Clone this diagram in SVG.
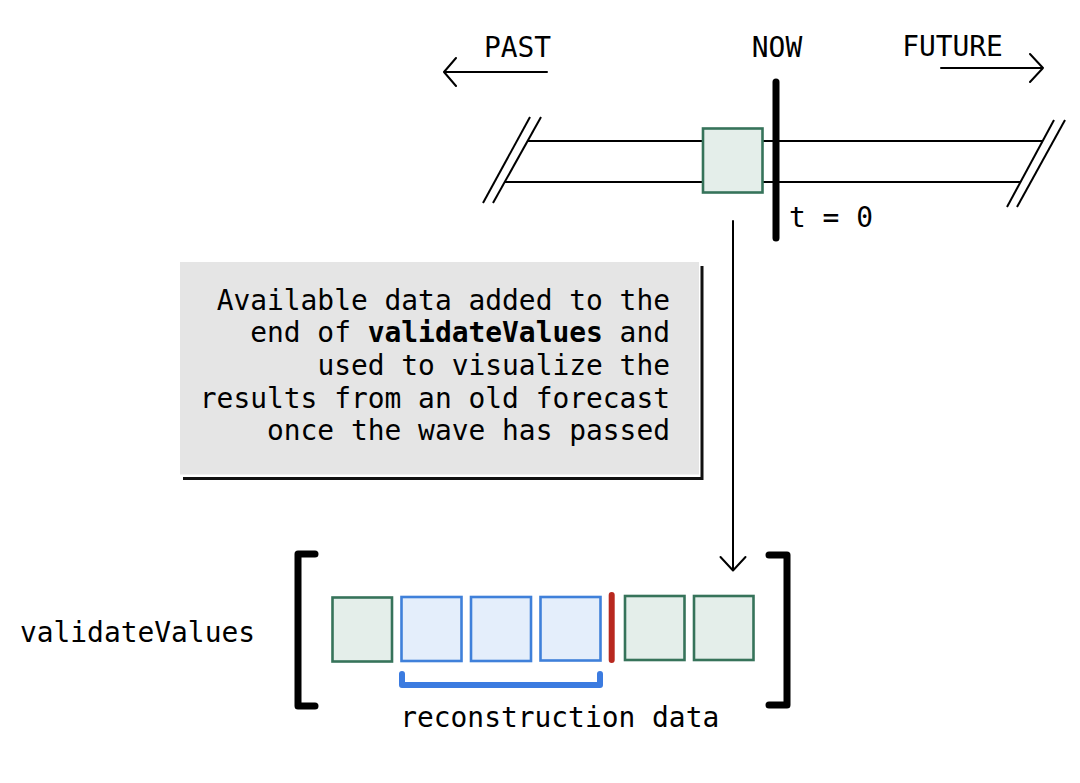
<svg xmlns="http://www.w3.org/2000/svg" width="1080" height="783" viewBox="0 0 1080 783">
<style>
  text { font-family: "DejaVu Sans Mono", "Liberation Mono", monospace; font-size: 27.9px; fill: #000; }
  .ln { stroke: #000; stroke-width: 2; fill: none; stroke-linecap: round; stroke-linejoin: round; }
  .thin { stroke: #000; stroke-width: 2; fill: none; }
  .heavy { stroke: #000; stroke-width: 7; fill: none; stroke-linecap: round; stroke-linejoin: round; }
  .green { fill: #e4eeea; stroke: #36735a; stroke-width: 2.6; }
  .blue { fill: #e4eefb; stroke: #3f80da; stroke-width: 2.6; }
</style>
<rect width="1080" height="783" fill="#ffffff"/>

<g id="timeline">
  <line class="thin" x1="527.6" y1="141" x2="1042.7" y2="141"/>
  <line class="thin" x1="504.7" y1="182" x2="1020.5" y2="182"/>
  <line class="thin" x1="483" y1="203" x2="530" y2="117"/>
  <line class="thin" x1="493" y1="203" x2="541" y2="117"/>
  <line class="thin" x1="1007" y1="207" x2="1054" y2="120"/>
  <line class="thin" x1="1017" y1="207" x2="1065" y2="120"/>
</g>

<g id="past-label">
  <text x="517.5" y="57" text-anchor="middle">PAST</text>
  <path class="ln" d="M547,72 H444 M456,58 L444,72 L456,86"/>
</g>

<g id="future-label">
  <text x="952.5" y="56" text-anchor="middle">FUTURE</text>
  <path class="ln" d="M941,68 H1043 M1030,54 L1043,68 L1030,82"/>
</g>

<g id="current-cell">
  <rect class="green" x="703" y="128.5" width="59.5" height="64"/>
</g>

<g id="now-marker">
  <text x="777" y="57" text-anchor="middle">NOW</text>
  <line class="heavy" x1="776" y1="82" x2="776" y2="238"/>
  <text x="831" y="227" text-anchor="middle">t = 0</text>
</g>

<g id="note">
  <rect x="180" y="262" width="519" height="212.5" fill="#e5e5e5"/>
  <path d="M702,266 V478.5 H183" stroke="#111" stroke-width="3" fill="none"/>
  <text x="670" y="309.5" text-anchor="end">Available data added to the</text>
  <text x="670" y="342.2" text-anchor="end">end of <tspan font-weight="bold">validateValues</tspan> and</text>
  <text x="670" y="374.9" text-anchor="end">used to visualize the</text>
  <text x="670" y="407.6" text-anchor="end">results from an old forecast</text>
  <text x="670" y="440.3" text-anchor="end">once the wave has passed</text>
</g>

<g id="connectors">
  <path class="ln" d="M733,221 V570" stroke-width="1.8"/>
  <path class="ln" d="M720.5,557 L733,570.5 L745.5,557" stroke-width="1.8"/>
</g>

<g id="validateValues-label">
  <text x="137.5" y="641.5" text-anchor="middle">validateValues</text>
</g>

<g id="array">
  <path class="heavy" d="M315,554 H298 V706 H315"/>
  <path class="heavy" d="M769,555 H787 V705 H769"/>
  <rect class="green" x="332.5" y="597.5" width="59.5" height="64"/>
  <rect class="blue" x="401.5" y="597" width="60" height="64"/>
  <rect class="blue" x="471" y="597" width="60" height="64"/>
  <rect class="blue" x="540.5" y="597" width="60" height="63.5"/>
  <line x1="611.7" y1="595" x2="611.7" y2="660" stroke="#b8281f" stroke-width="6" stroke-linecap="round"/>
  <rect class="green" x="625" y="596" width="59.5" height="64"/>
  <rect class="green" x="694" y="596" width="59.5" height="64"/>
</g>

<g id="reconstruction">
  <path d="M402,674 V685 H600 V674" stroke="#3b7be0" stroke-width="6" fill="none" stroke-linecap="round" stroke-linejoin="round"/>
  <text x="559.7" y="726.5" text-anchor="middle">reconstruction data</text>
</g>
</svg>
